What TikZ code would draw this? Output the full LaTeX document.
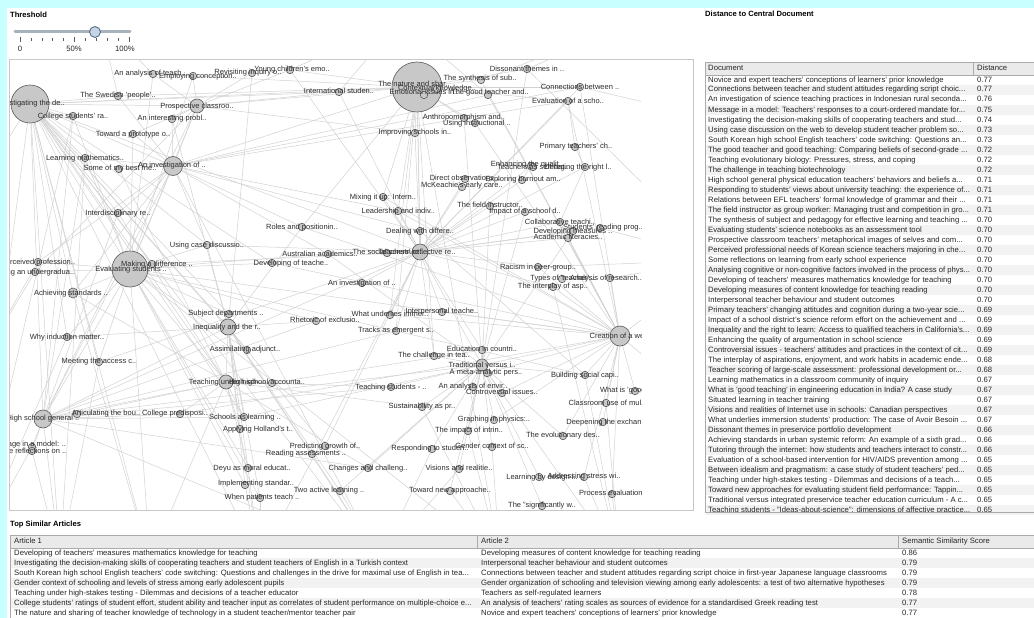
\documentclass[tikz,border=0pt]{standalone}
\usepackage{fontspec}
\setmainfont{Liberation Sans}
\pgfdeclarelayer{bg}
\pgfsetlayers{bg,main}
\definecolor{cyanbg}{RGB}{200,255,255}
\definecolor{edgec}{RGB}{210,210,210}
\definecolor{dotfill}{RGB}{200,200,200}
\definecolor{dotline}{RGB}{90,90,90}
\definecolor{labc}{RGB}{45,45,45}
\definecolor{rowg}{RGB}{242,242,242}
\definecolor{hdr}{RGB}{234,234,234}
\definecolor{tblline}{RGB}{170,170,170}
\definecolor{trackc}{RGB}{168,178,190}
\definecolor{knobf}{RGB}{196,212,228}
\definecolor{knobd}{RGB}{80,100,125}
\tikzset{
 gdot/.style={circle, fill=dotfill, draw=dotline, line width=0.6pt, inner sep=0pt},
 glab/.style={font=\fontsize{7.5}{9}\selectfont, text=labc, inner sep=0pt, text height=5.5pt, text depth=1.5pt},
 link/.style={draw=edgec, line width=0.5pt},
 ttl/.style={font=\fontsize{7.6}{9}\selectfont\bfseries, anchor=west, inner sep=0pt, text height=5.5pt, text depth=1.5pt},
 tcell/.style={font=\fontsize{7.7}{9}\selectfont, anchor=west, inner sep=0pt, text=black!85, text height=5.5pt, text depth=1.5pt},
 tickmark/.style={draw=black!65, line width=0.6pt},
}
\newcommand\nodelist{%
\gn{inv}{30}{104}{38}{30}{104}{Investigating the de..}
\gn{nat}{417}{87}{50}{414}{84}{The nature and shar..}
\gn{evs}{130}{269}{36}{131}{269}{Evaluating students'..}
\gn{cre}{620}{336}{20}{624}{336}{Creation of a welfar..}
\gn{ainv}{173}{166}{19}{172}{165}{An investigation of ..}
\gn{hsg}{43}{419}{18}{43}{418}{High school general ..}
\gn{ineq}{228}{327}{16}{227}{327}{Inequality and the r..}
\gn{tsoc}{420}{252}{16}{417}{252}{Teachers' reflective re..}
\gn{pro}{197}{106}{14}{197}{106}{Prospective classroo..}
\gn{tun}{226}{382}{14}{226}{382}{Teaching under high-..}
\gn{tra}{482}{365}{12}{482}{365}{Traditional versus i..}
\gn{ach}{73}{293}{10}{71}{293}{Achieving standards ..}
\gn{ana}{153}{74}{7.5}{150}{74}{An analysis of teach..}
\gn{emp}{193}{76}{7.5}{198}{76}{Employing conception..}
\gn{rev}{252}{73}{7.5}{248}{73}{Revisiting inquiry o..}
\gn{yng}{290}{70}{7.5}{292}{70}{Young children's emo..}
\gn{swe}{118}{96}{7.5}{118}{96}{The Swedish 'people'..}
\gn{col}{73}{116}{7.5}{73}{116}{College students' ra..}
\gn{int}{172}{119}{7.5}{172}{119}{An interesting probl..}
\gn{tow}{133}{134}{7.5}{133}{134}{Toward a prototype o..}
\gn{lea}{85}{158}{7.5}{85}{158}{Learning mathematics..}
\gn{som}{119}{169}{7.5}{120}{168}{Some of my best frie..}
\gn{itd}{118}{213}{7.5}{118}{213}{Interdisciplinary re..}
\gn{rol}{302}{227}{7.5}{302}{227}{Roles and positionin..}
\gn{usc}{207}{245}{7.5}{207}{245}{Using case discussio..}
\gn{aus}{328}{254}{7.5}{320}{254}{Australian academics..}
\gn{dvt}{272}{263}{7.5}{291}{263}{Developing of teache..}
\gn{itl}{339}{92}{7.5}{339}{92}{International studen..}
\gn{ctx}{437}{89}{7.5}{437}{89}{Contextual knowledge..}
\gn{emo}{424}{95}{7.5}{424}{93}{Emotional issues in..}
\gn{syn}{481}{80}{7.5}{480}{79}{The synthesis of sub..}
\gn{dis}{527}{69}{7.5}{527}{69}{Dissonant themes in ..}
\gn{con}{580}{87}{7.5}{580}{87}{Connections between ..}
\gn{gdt}{488}{95}{7.5}{490}{93}{The good teacher and..}
\gn{eva}{568}{101}{7.5}{568}{101}{Evaluation of a scho..}
\gn{ant}{464}{118}{7.5}{464}{117}{Anthropomorphism and..}
\gn{uin}{475}{123}{7.5}{477}{123}{Using instructional ..}
\gn{imp}{415}{133}{7.5}{415}{133}{Improving schools in..}
\gn{pri}{575}{147}{7.5}{576}{146}{Primary teachers' ch..}
\gn{enh}{531}{166}{7.5}{527}{164}{Enhancing the qualit..}
\gn{tsr}{533}{167}{7.5}{533}{167}{Teachers as self-reg..}
\gn{neg}{585}{167}{7.5}{578}{167}{Debating the right l..}
\gn{dir}{465}{179}{7.5}{465}{178}{Direct observations ..}
\gn{exp}{522}{180}{7.5}{523}{179}{Exploring burnout am..}
\gn{mck}{462}{187}{7.5}{462}{185}{McKeachie's early care..}
\gn{mix}{383}{197}{7.5}{383}{197}{Mixing it up: Intern..}
\gn{fie}{490}{206}{7.5}{490}{205}{The field instructor..}
\gn{ipc}{525}{212}{7.5}{525}{211}{Impact of a school d..}
\gn{ldr}{398}{211}{7.5}{398}{211}{Leadership and indiv..}
\gn{cla}{560}{222}{7.5}{560}{222}{Collaborative teachi..}
\gn{stu}{600}{228}{7.5}{603}{227}{Students' reading prog..}
\gn{dvm}{573}{231}{7.5}{573}{231}{Developing measures ..}
\gn{aca}{568}{238}{7.5}{568}{237}{Academic literacies..}
\gn{dea}{420}{231}{7.5}{420}{231}{Dealing with differe..}
\gn{tsc}{387}{253}{7.5}{388}{252}{The social construct..}
\gn{per}{38}{262}{7.5}{38}{262}{Perceived profession..}
\gn{und}{35}{272}{7.5}{35}{272}{Using an undergradua..}
\gn{mak}{152}{264}{7.5}{157}{264}{Making a difference ..}
\gn{sub}{229}{314}{7.5}{226}{313}{Subject departments ..}
\gn{rhe}{316}{321}{7.5}{325}{320}{Rhetoric of exclusio..}
\gn{why}{67}{337}{7.5}{67}{337}{Why induction matter..}
\gn{ass}{247}{350}{7.5}{245}{349}{Assimilating adjunct..}
\gn{mee}{99}{362}{7.5}{99}{361}{Meeting the access c..}
\gn{hsa}{272}{383}{7.5}{267}{382}{High school accounta..}
\gn{art}{77}{414}{7.5}{106}{413}{Articulating the bou..}
\gn{cpd}{180}{414}{7.5}{175}{413}{College predisposi..}
\gn{sch}{244}{417}{7.5}{245}{417}{Schools as learning ..}
\gn{app}{240}{429}{7.5}{258}{429}{Applying Holland's t..}
\gn{msg}{32}{447}{7.5}{28}{444}{Message in a model: ..}
\gn{srf}{32}{451}{7.5}{30}{451}{Some reflections on ..}
\gn{prd}{325}{446}{7.5}{325}{446}{Predicting growth of..}
\gn{rea}{312}{454}{7.5}{306}{453}{Reading assessments ..}
\gn{dey}{248}{468}{7.5}{252}{468}{Deyu as moral educat..}
\gn{chg}{368}{468}{7.5}{368}{468}{Changes and challeng..}
\gn{imps}{245}{485}{7.5}{256}{483}{Implementing standar..}
\gn{two}{340}{491}{7.5}{329}{490}{Two active learning ..}
\gn{whe}{260}{498}{7.5}{262}{497}{When patients teach ..}
\gn{rac}{538}{267}{7.5}{538}{267}{Racism in peer-group..}
\gn{typ}{562}{279}{7.5}{563}{278}{Types of 'teacher' ..}
\gn{anr}{610}{278}{7.5}{606}{278}{Analysis of research..}
\gn{itp}{553}{287}{7.5}{553}{286}{The interplay of asp..}
\gn{ainvb}{362}{283}{7.5}{362}{283}{An investigation of ..}
\gn{wun}{390}{315}{7.5}{390}{314}{What underlies immer..}
\gn{ipt}{442}{312}{7.5}{442}{311}{Interpersonal teache..}
\gn{trk}{396}{331}{7.5}{396}{330}{Tracks as emergent s..}
\gn{edu}{482}{350}{7.5}{482}{349}{Education in countri..}
\gn{chl}{434}{356}{7.5}{434}{355}{The challenge in tea..}
\gn{met}{487}{373}{7.5}{486}{372}{A meta-analytic pers..}
\gn{bui}{585}{375}{7.5}{585}{375}{Building social capi..}
\gn{tst}{391}{387}{7.5}{391}{387}{Teaching students - ..}
\gn{aen}{473}{387}{7.5}{473}{386}{An analysis of envir..}
\gn{cnt}{502}{393}{7.5}{502}{392}{Controversial issues..}
\gn{wig}{635}{391}{7.5}{636}{390}{What is 'good teachi..}
\gn{clu}{606}{403}{7.5}{607}{403}{Classroom use of mul..}
\gn{sus}{422}{407}{7.5}{422}{406}{Sustainability as pr..}
\gn{gra}{494}{420}{7.5}{494}{419}{Graphing in physics:..}
\gn{dee}{603}{422}{7.5}{606}{422}{Deepening the exchan..}
\gn{tim}{468}{431}{7.5}{469}{430}{The impact of intrin..}
\gn{evo}{563}{436}{7.5}{563}{435}{The evolutionary des..}
\gn{res}{432}{449}{7.5}{430}{448}{Responding to studen..}
\gn{gen}{492}{447}{7.5}{492}{446}{Gender context of sc..}
\gn{vis}{459}{469}{7.5}{459}{468}{Visions and realitie..}
\gn{ltb}{539}{477}{7.5}{542}{477}{Learning by design i..}
\gn{add}{584}{477}{7.5}{584}{476}{Addressing stress wi..}
\gn{twn}{450}{491}{7.5}{450}{490}{Toward new approache..}
\gn{prc}{612}{494}{7.5}{614}{493}{Process evaluation ..}
\gn{sig}{542}{506}{7.5}{542}{505}{The "significantly w..}
}
\begin{document}
\begin{tikzpicture}[x=1pt,y=-1pt]
\useasboundingbox (0,0) rectangle (1034,618);
\begin{pgfonlayer}{bg}
\fill[cyanbg] (0,0) rectangle (1034,618);
\fill[white] (7,8) rectangle (1034,618);
\draw[draw=black!22, line width=0.6pt] (9.5,59.5) rectangle (693.5,510.5);
\end{pgfonlayer}
% threshold slider
\node[ttl] (thr) at (10,16) {Threshold};
\draw[trackc, line width=3pt, line cap=round] (15,32) -- (130,32);
\foreach \i in {1,2,3,4,6,7,8,9} \draw[tickmark] ({20+\i*10.9},38.5) -- ({20+\i*10.9},41.5);
\foreach \i in {0,5,10} \draw[tickmark] ({20+\i*10.9},37.5) -- ({20+\i*10.9},42.5);
\node[circle, fill=knobf, draw=knobd, line width=0.8pt, minimum size=11pt, inner sep=0pt] (knob) at (95,32) {};
\node[tcell, anchor=center] (t0) at (20,49.5) {0};
\node[tcell, anchor=center] (t50) at (74,49.5) {50\%};
\node[tcell, anchor=center] (t100) at (125,49.5) {100\%};
% right table
\node[ttl] (dct) at (705,15) {Distance to Central Document};
\fill[hdr] (705,62) rectangle (1034,75);
\foreach \i in {2,4,...,44} \fill[rowg] (706,{75+(\i-1)*10}) rectangle (1034,{85+(\i-1)*10});
\draw[tblline, line width=0.6pt] (705.5,62.5) rectangle (1040,512);
\draw[tblline, line width=0.6pt] (705.5,75) -- (1034,75);
\draw[tblline, line width=0.6pt] (973,62.5) -- (973,75);
\node[tcell] (hdoc) at (708,68.5) {Document};
\node[tcell] (hdist) at (977,68.5) {Distance};
\begin{scope}
\clip (705,75) rectangle (1034,511.5);
\foreach \t/\v [count=\i] in {
{Novice and expert teachers' conceptions of learners' prior knowledge}/0.77,
{Connections between teacher and student attitudes regarding script choic...}/0.77,
{An investigation of science teaching practices in Indonesian rural seconda...}/0.76,
{Message in a model: Teachers' responses to a court-ordered mandate for...}/0.75,
{Investigating the decision-making skills of cooperating teachers and stud...}/0.74,
{Using case discussion on the web to develop student teacher problem so...}/0.73,
{South Korean high school English teachers' code switching: Questions an...}/0.73,
{The good teacher and good teaching: Comparing beliefs of second-grade ...}/0.72,
{Teaching evolutionary biology: Pressures, stress, and coping}/0.72,
{The challenge in teaching biotechnology}/0.72,
{High school general physical education teachers' behaviors and beliefs a...}/0.71,
{Responding to students' views about university teaching: the experience of...}/0.71,
{Relations between EFL teachers' formal knowledge of grammar and their ...}/0.71,
{The field instructor as group worker: Managing trust and competition in gro...}/0.71,
{The synthesis of subject and pedagogy for effective learning and teaching ...}/0.70,
{Evaluating students' science notebooks as an assessment tool}/0.70,
{Prospective classroom teachers' metaphorical images of selves and com...}/0.70,
{Perceived professional needs of Korean science teachers majoring in che...}/0.70,
{Some reflections on learning from early school experience}/0.70,
{Analysing cognitive or non-cognitive factors involved in the process of phys...}/0.70,
{Developing of teachers' measures mathematics knowledge for teaching}/0.70,
{Developing measures of content knowledge for teaching reading}/0.70,
{Interpersonal teacher behaviour and student outcomes}/0.70,
{Primary teachers' changing attitudes and cognition during a two-year scie...}/0.69,
{Impact of a school district's science reform effort on the achievement and ...}/0.69,
{Inequality and the right to learn: Access to qualified teachers in California's...}/0.69,
{Enhancing the quality of argumentation in school science}/0.69,
{Controversial issues - teachers' attitudes and practices in the context of cit...}/0.69,
{The interplay of aspirations, enjoyment, and work habits in academic ende...}/0.68,
{Teacher scoring of large-scale assessment: professional development or...}/0.68,
{Learning mathematics in a classroom community of inquiry}/0.67,
{What is 'good teaching' in engineering education in India? A case study}/0.67,
{Situated learning in teacher training}/0.67,
{Visions and realities of Internet use in schools: Canadian perspectives}/0.67,
{What underlies immersion students' production: The case of Avoir Besoin ...}/0.67,
{Dissonant themes in preservice portfolio development}/0.66,
{Achieving standards in urban systemic reform: An example of a sixth grad...}/0.66,
{Tutoring through the internet: how students and teachers interact to constr...}/0.66,
{Evaluation of a school-based intervention for HIV/AIDS prevention among ...}/0.65,
{Between idealism and pragmatism: a case study of student teachers' ped...}/0.65,
{Teaching under high-stakes testing - Dilemmas and decisions of a teach...}/0.65,
{Toward new approaches for evaluating student field performance: Tappin...}/0.65,
{Traditional versus integrated preservice teacher education curriculum - A c...}/0.65,
{Teaching students - "Ideas-about-science": dimensions of affective practice...}/0.65}
{\node[tcell] (dr\i) at (708,{80+(\i-1)*10}) {\t};
 \node[tcell] (dv\i) at (977,{80+(\i-1)*10}) {\v};}
\end{scope}
% bottom table
\node[ttl] (tsa) at (10,524) {Top Similar Articles};
\fill[hdr] (10,535) rectangle (1034,548);
\foreach \i in {2,4,6} \fill[rowg] (11,{548+(\i-1)*10}) rectangle (1034,{558+(\i-1)*10});
\draw[tblline, line width=0.6pt] (10.5,535.5) rectangle (1040,630);
\draw[tblline, line width=0.6pt] (10.5,548) -- (1034,548);
\draw[tblline, line width=0.6pt] (477,535.5) -- (477,548);
\draw[tblline, line width=0.6pt] (898,535.5) -- (898,548);
\node[tcell] (ha1) at (14,541.5) {Article 1};
\node[tcell] (ha2) at (481,541.5) {Article 2};
\node[tcell] (hsc) at (902,541.5) {Semantic Similarity Score};
\foreach \a/\b/\c [count=\i] in {
{Developing of teachers' measures mathematics knowledge for teaching}/{Developing measures of content knowledge for teaching reading}/0.86,
{Investigating the decision-making skills of cooperating teachers and student teachers of English in a Turkish context}/{Interpersonal teacher behaviour and student outcomes}/0.79,
{South Korean high school English teachers' code switching: Questions and challenges in the drive for maximal use of English in tea...}/{Connections between teacher and student attitudes regarding script choice in first-year Japanese language classrooms}/0.79,
{Gender context of schooling and levels of stress among early adolescent pupils}/{Gender organization of schooling and television viewing among early adolescents: a test of two alternative hypotheses}/0.79,
{Teaching under high-stakes testing - Dilemmas and decisions of a teacher educator}/{Teachers as self-regulated learners}/0.78,
{College students' ratings of student effort, student ability and teacher input as correlates of student performance on multiple-choice e...}/{An analysis of teachers' rating scales as sources of evidence for a standardised Greek reading test}/0.77,
{The nature and sharing of teacher knowledge of technology in a student teacher/mentor teacher pair}/{Novice and expert teachers' conceptions of learners' prior knowledge}/0.77}
{\node[tcell] (ba\i) at (14,{553+(\i-1)*10}) {\a};
 \node[tcell] (bb\i) at (481,{553+(\i-1)*10}) {\b};
 \node[tcell] (bc\i) at (902,{553+(\i-1)*10}) {\c};}
% graph
\begin{scope}
\clip (10,60) rectangle (641,510);
\def\gn#1#2#3#4#5#6#7{\node[gdot, minimum size=#4pt] (#1) at (#2,#3) {};}
\nodelist
\def\gn#1#2#3#4#5#6#7{\node[glab] (#1t) at (#5,#6) {#7};}
\nodelist
\end{scope}
\coordinate (ob1) at (-30,560); \coordinate (ob2) at (60,560);
\coordinate (ob3) at (150,560); \coordinate (ob4) at (260,560);
\coordinate (ob5) at (380,560); \coordinate (ob6) at (500,560);
\coordinate (ob7) at (620,560);
\coordinate (or1) at (720,120); \coordinate (or2) at (720,260); \coordinate (or3) at (720,420);
\coordinate (ot1) at (100,20); \coordinate (ot2) at (400,20); \coordinate (ot3) at (640,20);
\coordinate (ol1) at (-30,200); \coordinate (ol2) at (-30,380);
\begin{pgfonlayer}{bg}
\begin{scope}
\clip (10,60) rectangle (641,510);
\foreach \a/\b in {inv/swe, inv/col, inv/itl, inv/nat, inv/evs, inv/hsg, inv/ach, inv/why, inv/lea, inv/itd, inv/mak, inv/tun, inv/ineq, inv/sch, inv/mee, inv/ob1, inv/ob3, inv/ob4, inv/dvt, inv/tsoc, inv/ol1,
nat/itl, nat/imp, nat/ant, nat/uin, nat/gdt, nat/syn, nat/pro, nat/ainv, nat/tsoc, nat/dea, nat/mix, nat/ldr, nat/rol, nat/wun, nat/trk, nat/chl, nat/dis, nat/con, nat/eva, nat/ob6, nat/ana, nat/yng,
evs/ainv, evs/pro, evs/usc, evs/dvt, evs/sub, evs/ass, evs/tun, evs/hsg, evs/why, evs/mee, evs/rhe, evs/cre, evs/bui, evs/dey, evs/whe, evs/imps, evs/aus, evs/ob3, evs/ob6, evs/per, evs/und, evs/ach,
hsg/ainv, hsg/tun, hsg/ineq, hsg/art, hsg/cpd, hsg/sch, hsg/tsoc, hsg/trk, hsg/msg, hsg/srf, hsg/pro, hsg/ob2, hsg/ob5, hsg/tst, hsg/rhe, hsg/chg,
ainv/pro, ainv/int, ainv/tow, ainv/lea, ainv/som, ainv/itd, ainv/usc, ainv/aus, ainv/gdt, ainv/eva, ainv/con, ainv/ob5, ainv/rol, ainv/ach, ainv/ldr, ainv/dea,
cre/bui, cre/wig, cre/clu, cre/dee, cre/evo, cre/add, cre/prc, cre/tra, cre/cnt, cre/ipt, cre/wun, cre/anr, cre/itp, cre/rac, cre/eva, cre/con, cre/or3, cre/or2, cre/met, cre/gra,
tsoc/dea, tsoc/mix, tsoc/ldr, tsoc/fie, tsoc/ipc, tsoc/cla, tsoc/rac, tsoc/itp, tsoc/ainvb, tsoc/wun, tsoc/ipt, tsoc/trk, tsoc/chl, tsoc/edu, tsoc/tra, tsoc/dvm, tsoc/stu, tsoc/aca, tsoc/ob4, tsoc/enh, tsoc/neg, tsoc/dir, tsoc/mck, tsoc/exp,
tra/met, tra/edu, tra/aen, tra/cnt, tra/gra, tra/tim, tra/gen, tra/res, tra/vis, tra/sus, tra/tst, tra/chl, tra/bui, tra/evo, tra/ob7, tra/twn, tra/sig, tra/ltb,
ineq/sub, ineq/ass, ineq/tun, ineq/rhe, ineq/app, ineq/sch, ineq/dey, ineq/imps, ineq/whe, ineq/two, ineq/prd, ineq/rea, ineq/ob5, ineq/usc, ineq/rol,
tun/sch, tun/app, tun/cpd, tun/art, tun/hsa, tun/dey, tun/chg, tun/sus, tun/tst, tun/ob3,
pro/int, pro/itl, pro/rev, pro/yng, pro/emp, pro/ana, pro/tow, pro/imp,
con/or1, dis/or2, eva/pri, pri/neg, enh/exp, neg/cla, stu/or2, anr/or2, wig/or3, prc/ob7, sig/ob6, add/ob7, vis/ob5, twn/ob6, two/ob5, whe/ob4, imps/ob4, msg/ob1, srf/ob2, why/ob1, mee/ob2, ach/ob3, col/ob1, lea/ob2, per/ol2, und/ol2, gdt/ot2, syn/ot3, itl/ot2, ana/ot1, swe/ot1, yng/ot2, dis/ot3,
inv/pro, inv/ainv, inv/usc, inv/sub, inv/ass, inv/ob2, inv/ob5, col/evs, col/hsg, swe/nat, swe/ainv, lea/evs, lea/hsg, itd/hsg, itd/tun, tow/evs, int/ineq, som/tun, usc/tsoc, rol/cre, aus/tra, dvt/cre, mak/tsoc, per/ainv, und/pro, ach/tun, why/ineq, mee/tsoc, art/tra, cpd/cre, sch/tra, app/ob4, hsa/edu, dey/ob4, chg/tra, two/tra, prd/tsoc, rea/ob5, rac/or2, itp/ob7, bui/ob7, clu/ob7, gen/ob6, res/ob5, sus/ob6, tim/ob6, ldr/cre, mix/cre, dea/bui, fie/tra, ipc/tra, cla/cre, dvm/tra, aca/cre, imp/tsoc, ant/tra, uin/cre, eva/tsoc, con/tsoc, dis/tra, syn/cre, gdt/cre, itl/tsoc, yng/tsoc, rev/ineq, emp/evs, ana/evs}
\draw[link] (\a) -- (\b);
\end{scope}
\end{pgfonlayer}
\end{tikzpicture}
\end{document}
